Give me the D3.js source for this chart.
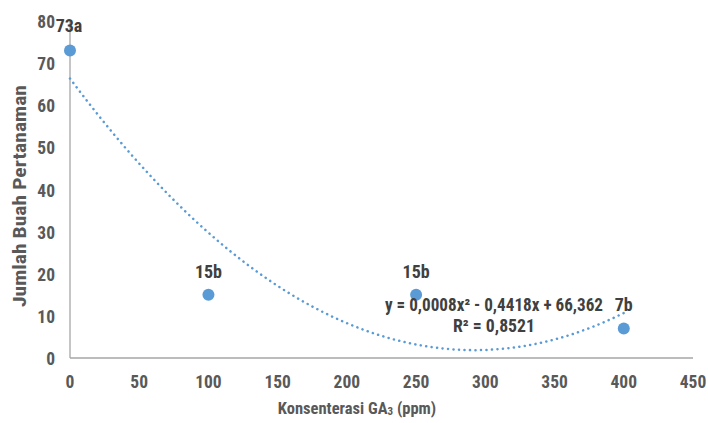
<!DOCTYPE html>
<html><head><meta charset="utf-8">
<script src="https://cdn.jsdelivr.net/npm/d3@7"></script>
<style>
body{margin:0;background:#fff;}
text{font-family:"Liberation Sans Narrow","Arial Narrow","Roboto Condensed","Liberation Sans",sans-serif;font-weight:bold;}
</style></head>
<body><svg id="c" width="708" height="423"></svg>
<script>
const concentrations = [0, 100, 250, 400];
const fruitCounts = [73, 15, 15, 7];
const pointLabels = ["73a", "15b", "15b", "7b"];
const xTicks = [0, 50, 100, 150, 200, 250, 300, 350, 400, 450];
const yTicks = [0, 10, 20, 30, 40, 50, 60, 70, 80];
const equationText = ["y = 0,0008x\u00B2 - 0,4418x + 66,362", "R\u00B2 = 0,8521"];

const svg = d3.select("#c");
const x = d3.scaleLinear().domain([0, 450]).range([70, 693]);
const y = d3.scaleLinear().domain([0, 80]).range([358, 21]);
const axisColor = "#a6a6a6", tickColor = "#595959", blue = "#5b9bd5";

// axes lines
svg.append("line").attr("x1", x(0)).attr("x2", x(0)).attr("y1", y(80)).attr("y2", y(0)).attr("stroke", axisColor).attr("stroke-width", 1.3);
svg.append("line").attr("x1", x(0)).attr("x2", x(450)).attr("y1", y(0)).attr("y2", y(0)).attr("stroke", axisColor).attr("stroke-width", 1.3);

// tick labels
svg.selectAll(".xt").data(xTicks).enter().append("text")
  .attr("x", d => x(d)).attr("y", 388).attr("text-anchor", "middle")
  .attr("font-size", 17.5).attr("fill", tickColor).text(d => d);
svg.selectAll(".yt").data(yTicks).enter().append("text")
  .attr("x", 55).attr("y", d => y(d) + 7).attr("text-anchor", "end")
  .attr("font-size", 17.5).attr("fill", tickColor).text(d => d);

// axis titles
const xt = svg.append("text").attr("x", 357).attr("y", 414).attr("text-anchor", "middle")
  .attr("font-size", 16.5).attr("fill", tickColor);
xt.append("tspan").text("Konsenterasi GA");
xt.append("tspan").attr("font-size", 11).attr("dy", 1).text("3");
xt.append("tspan").attr("dy", -1).text(" (ppm)");
svg.append("text").attr("transform", "translate(26,196) rotate(-90)").attr("text-anchor", "middle")
  .attr("font-size", 18.5).attr("fill", tickColor)
  .attr("textLength", 222).attr("lengthAdjust", "spacingAndGlyphs").text("Jumlah Buah Pertanaman");

// least-squares quadratic trend fitted to the data
function fitQuad(xs, ys) {
  const S = k => d3.sum(xs, v => Math.pow(v, k));
  const T = k => d3.sum(xs.map((v, i) => Math.pow(v, k) * ys[i]));
  const A = [[S(0), S(1), S(2)], [S(1), S(2), S(3)], [S(2), S(3), S(4)]];
  const B = [T(0), T(1), T(2)];
  const n = 3;
  for (let i = 0; i < n; i++) {
    for (let j = i + 1; j < n; j++) {
      const f = A[j][i] / A[i][i];
      for (let k = i; k < n; k++) A[j][k] -= f * A[i][k];
      B[j] -= f * B[i];
    }
  }
  const c = [0, 0, 0];
  for (let i = n - 1; i >= 0; i--) {
    let s = B[i];
    for (let k = i + 1; k < n; k++) s -= A[i][k] * c[k];
    c[i] = s / A[i][i];
  }
  return c;
}
const coef = fitQuad(concentrations, fruitCounts);
const trendX = d3.range(0, 400.001, 2);
const line = d3.line().x(d => x(d)).y(d => y(coef[0] + coef[1] * d + coef[2] * d * d));
svg.append("path").datum(trendX).attr("d", line).attr("fill", "none")
  .attr("stroke", blue).attr("stroke-width", 2.5).attr("stroke-dasharray", "0.1,5.4").attr("stroke-linecap", "round");

// points
svg.selectAll(".pt").data(concentrations).enter().append("circle")
  .attr("cx", d => x(d)).attr("cy", (d, i) => y(fruitCounts[i])).attr("r", 6).attr("fill", blue);

// point labels
const labelOffsets = [[-1, -18.5], [0, -17], [0, -17], [0, -17.5]];
svg.selectAll(".pl").data(concentrations).enter().append("text")
  .attr("x", (d, i) => x(d) + labelOffsets[i][0]).attr("y", (d, i) => y(fruitCounts[i]) + labelOffsets[i][1])
  .attr("text-anchor", "middle").attr("font-size", 18).attr("fill", "#404040").text((d, i) => pointLabels[i]);

// equation
const eqWidths = [218, 82];
svg.selectAll(".eq").data(equationText).enter().append("text")
  .attr("x", 494).attr("y", (d, i) => 311 + i * 21).attr("text-anchor", "middle")
  .attr("font-size", 17.5).attr("fill", "#404040")
  .attr("textLength", (d, i) => eqWidths[i]).attr("lengthAdjust", "spacingAndGlyphs").text(d => d);
</script></body></html>
